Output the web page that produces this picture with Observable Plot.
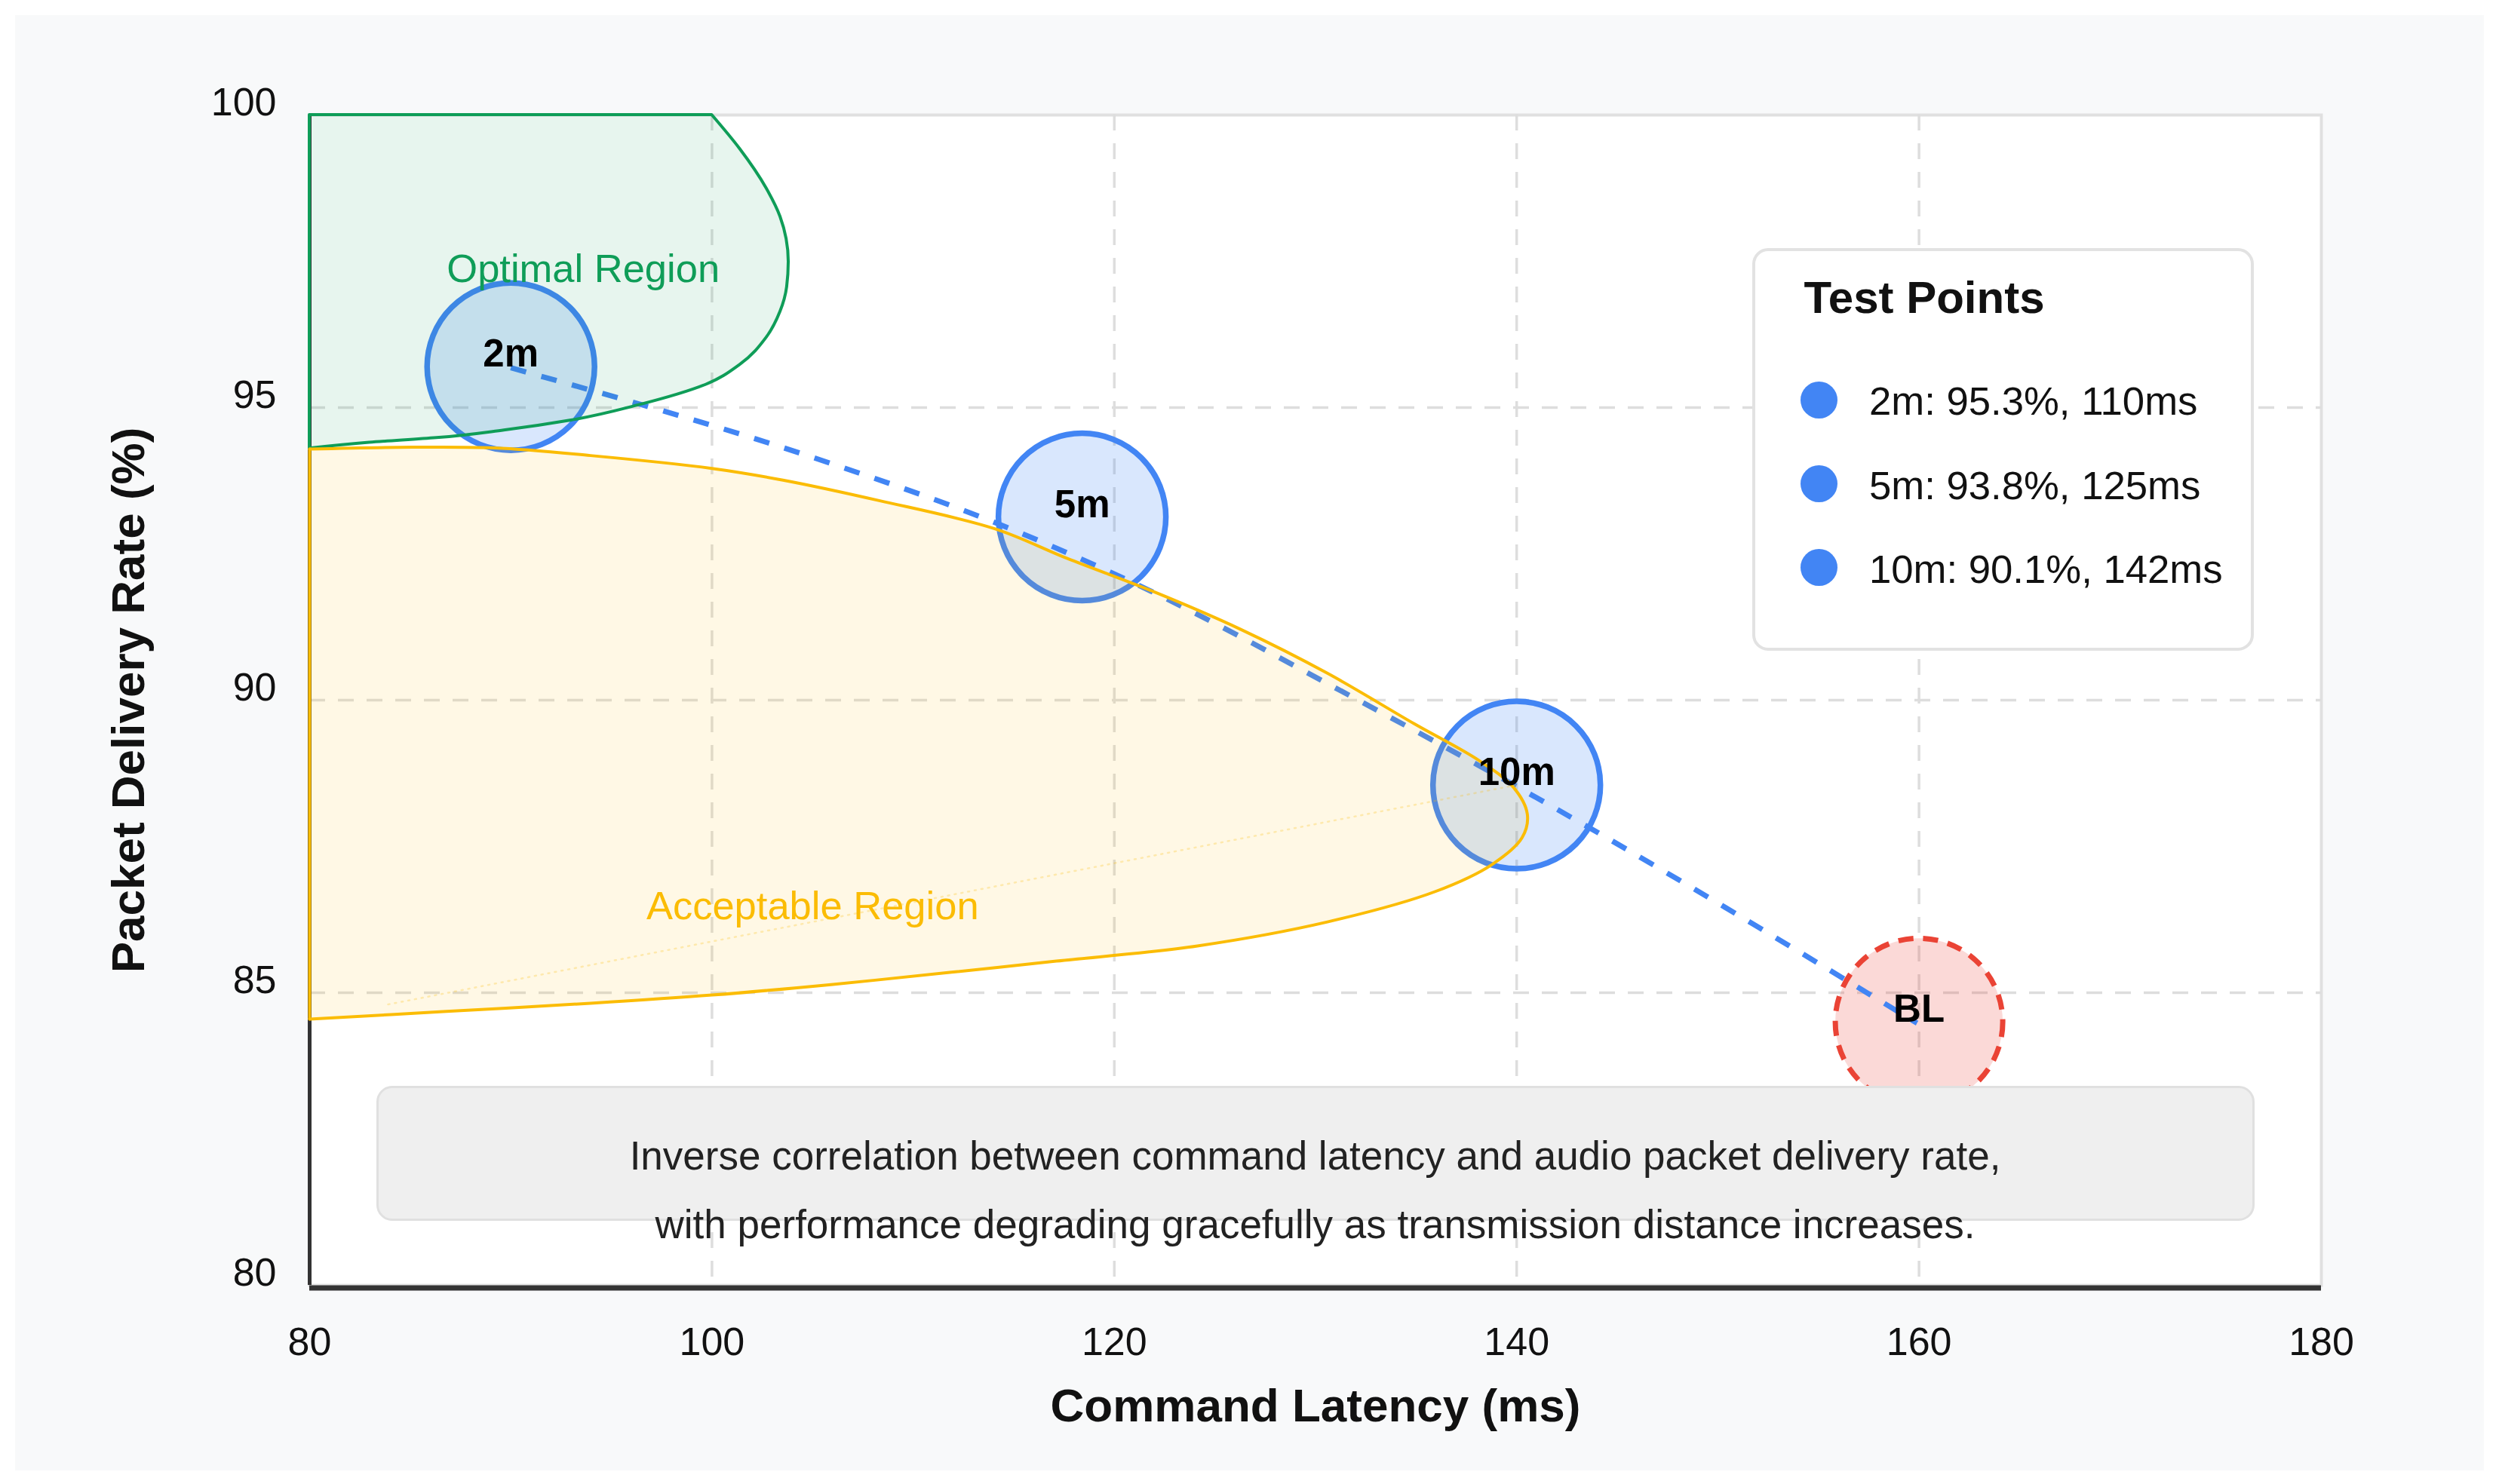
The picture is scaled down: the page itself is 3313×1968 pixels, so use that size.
<!DOCTYPE html>
<html>
<head>
<meta charset="utf-8">
<script src="https://cdn.jsdelivr.net/npm/d3@7"></script>
<script src="https://cdn.jsdelivr.net/npm/@observablehq/plot@0.6"></script>
<style>
  html, body { margin: 0; padding: 0; background: #ffffff; }
  body { width: 3313px; height: 1968px; position: relative; overflow: hidden;
         font-family: "Liberation Sans", Arial, Helvetica, sans-serif; color: #111; }
  #panel { position: absolute; left: 20px; top: 20px; width: 3273px; height: 1930px; background: #f8f9fa; }
  #chart { position: absolute; left: 0; top: 0; }
  .abs { position: absolute; white-space: nowrap; }
  #legendBox { left: 2303px; top: 309px; width: 665px; height: 534px; box-sizing: border-box;
               background: #ffffff; border: 4px solid #e2e2e2; border-radius: 21px; }
  #legendTitle { left: 2371.6px; top: 345.2px; font-size: 60px; line-height: 60px; font-weight: bold; color: #111; }
  .legDot { width: 49px; height: 49px; border-radius: 50%; background: #4285f4; }
  .legText { font-size: 52.7px; line-height: 52.7px; color: #111; }
  #captionBox { left: 479px; top: 1420px; width: 2490px; height: 179px; box-sizing: border-box;
                background: #efefef; border: 3px solid #e0e0e0; border-radius: 21px; }
  #captionText { left: 390px; top: 1466.5px; width: 2667px; text-align: center; white-space: normal;
                 font-size: 53px; line-height: 91px; color: #222; }
</style>
</head>
<body>
<div id="panel">
  <div id="chart"></div>
  <div id="legendBox" class="abs"></div>
  <div id="legendTitle" class="abs">Test Points</div>
  <div id="legendItems"></div>
  <div id="captionBox" class="abs"></div>
  <div id="captionText" class="abs"></div>
</div>
<script>
// ---- Data ----
// Legend values of the three test points
const distances    = ["2m", "5m", "10m"];
const deliveryRate = [95.3, 93.8, 90.1];   // %
const latencyMs    = [110, 125, 142];      // ms

// Marker positions as drawn on the chart (latency ms, delivery %)
const markerLabels   = ["2m", "5m", "10m", "BL"];
const markerLatency  = [90, 118.4, 140, 160];
const markerDelivery = [95.7, 93.13, 88.55, 84.5];

// Dashed trend curve as drawn (latency ms, delivery %)
const trendLatency  = [90.0, 105.87, 114.03, 120.61, 132.18, 139.81, 159.9];
const trendDelivery = [95.68, 94.05, 93.04, 92.06, 89.99, 88.56, 84.48];

// Axis ticks
const xTicks = [80, 100, 120, 140, 160, 180];
const yTicks = [80, 85, 90, 95, 100];

// Optimal region right boundary (ordered by delivery rate)
const optimalX = [80, 82.97, 86.32, 89.67, 93.01, 96.35, 99.70, 101.39, 102.72, 103.40, 103.73, 103.81, 103.40, 102.72, 101.39, 100.0];
const optimalY = [94.30, 94.40, 94.48, 94.61, 94.78, 95.04, 95.39, 95.73, 96.20, 96.64, 97.06, 97.49, 98.26, 98.74, 99.42, 100.0];

// Acceptable region outline (top edge left->right, tip, bottom edge right->left)
const acceptableX = [80, 84.41, 89.19, 93.96, 100.0, 103.53, 108.31, 114.05, 117.67, 121.98, 126.28, 130.59, 134.89, 138.12, 139.84, 140.53, 140.27, 138.77, 135.96, 130.59, 124.13, 117.12, 111.91, 105.92, 100.0, 93.96, 86.80, 80];
const acceptableY = [94.29, 94.32, 94.31, 94.18, 93.96, 93.76, 93.41, 92.93, 92.42, 91.85, 91.21, 90.46, 89.60, 88.97, 88.51, 88.05, 87.65, 87.19, 86.73, 86.21, 85.80, 85.54, 85.35, 85.14, 84.96, 84.82, 84.68, 84.55];

// Faint dotted chord inside the acceptable region
const chordX = [83.9, 140];
const chordY = [84.8, 88.55];

// Region labels
const regionNames  = ["Optimal Region", "Acceptable Region"];
const regionLabelX = [93.6, 105.0];
const regionLabelY = [97.15, 86.26];

const captionLines = [
  "Inverse correlation between command latency and audio packet delivery rate,",
  "with performance degrading gracefully as transmission distance increases."
];

// ---- Tables ----
const markers = markerLabels.map((label, i) => ({label, x: markerLatency[i], y: markerDelivery[i]}));
const tests = markers.filter(d => d.label !== "BL");
const baseline = markers.filter(d => d.label === "BL");
const trend = trendLatency.map((x, i) => ({x, y: trendDelivery[i]}));
const optimal = optimalX.map((x, i) => ({x, y: optimalY[i]}));
const acceptable = acceptableX.map((x, i) => ({x, y: acceptableY[i]}));
const acceptableEdge = [acceptable[acceptable.length - 1], acceptable[0]];
const chord = chordX.map((x, i) => ({x, y: chordY[i]}));
const regionLabels = regionNames.map((name, i) => ({name, x: regionLabelX[i], y: regionLabelY[i]}));

const FONT = "Liberation Sans, Arial, Helvetica, sans-serif";
const gridStyle = {stroke: "#dddddd", strokeOpacity: 1, strokeWidth: 3.5, strokeDasharray: "21,17"};

const chart = Plot.plot({
  width: 3273,
  height: 1930,
  marginLeft: 390,
  marginRight: 216,
  marginTop: 132,
  marginBottom: 246,
  x: {domain: [xTicks[0], xTicks[xTicks.length - 1]], label: null},
  y: {domain: [yTicks[0], yTicks[yTicks.length - 1]], label: null},
  style: {fontFamily: FONT, background: "transparent", color: "#111", overflow: "visible"},
  marks: [
    Plot.frame({fill: "white", stroke: "#e0e0e0", strokeWidth: 4}),
    Plot.gridX(xTicks.slice(1, -1), gridStyle),
    Plot.gridY(yTicks.slice(1, -1), gridStyle),
    Plot.ruleY([yTicks[0]], {stroke: "#333", strokeWidth: 7, dy: 3.5}),
    Plot.ruleX([xTicks[0]], {stroke: "#333", strokeWidth: 5}),
    Plot.axisX(xTicks, {tickSize: 0, tickPadding: 56, fontSize: 52, fill: "#111", label: null, tickFormat: d => String(d)}),
    Plot.axisY(yTicks, {tickSize: 0, tickPadding: 44, fontSize: 52, fill: "#111", lineAnchor: "bottom", label: null, tickFormat: d => String(d)}),
    Plot.dot(tests, {x: "x", y: "y", r: 111, fill: "#4285f4", fillOpacity: 0.2, stroke: "#4285f4", strokeWidth: 7.5}),
    Plot.dot(baseline, {x: "x", y: "y", r: 111, fill: "#ea4335", fillOpacity: 0.2, stroke: "#ea4335", strokeWidth: 7, strokeDasharray: "20,13"}),
    Plot.line(trend, {x: "x", y: "y", curve: "monotone-x", stroke: "#4285f4", strokeWidth: 7, strokeDasharray: "21,21", strokeLinecap: "butt"}),
    Plot.areaX(optimal, {y: "y", x1: xTicks[0], x2: "x", curve: "monotone-y", fill: "#0f9d58", fillOpacity: 0.1, stroke: "#0f9d58", strokeWidth: 4}),
    Plot.line(acceptable, {x: "x", y: "y", curve: "catmull-rom", fill: "#fbbc04", fillOpacity: 0.1, stroke: "#fbbc04", strokeWidth: 4}),
    Plot.line(acceptableEdge, {x: "x", y: "y", stroke: "#fbbc04", strokeWidth: 4}),
    Plot.line(chord, {x: "x", y: "y", stroke: "#fbbc04", strokeOpacity: 0.25, strokeWidth: 2.5, strokeDasharray: "2,7"}),
    Plot.text(regionLabels.slice(0, 1), {x: "x", y: "y", text: "name", fill: "#0f9d58", fontSize: 52.5, lineAnchor: "bottom"}),
    Plot.text(regionLabels.slice(1), {x: "x", y: "y", text: "name", fill: "#fbbc04", fontSize: 52.5, lineAnchor: "bottom"}),
    Plot.text(markers, {x: "x", y: "y", text: "label", fontSize: 51, fontWeight: "bold", fill: "#000", lineAnchor: "bottom"}),
    Plot.text(["Command Latency (ms)"], {frameAnchor: "bottom", lineAnchor: "bottom", dy: 180, fontSize: 62, fontWeight: "bold", fill: "#111"}),
    Plot.text(["Packet Delivery Rate (%)"], {frameAnchor: "left", rotate: -90, textAnchor: "middle", lineAnchor: "bottom", dx: -220, fontSize: 62, fontWeight: "bold", fill: "#111"})
  ]
});
document.getElementById("chart").appendChild(chart);

// ---- Legend (HTML overlay) ----
const items = document.getElementById("legendItems");
distances.forEach((d, i) => {
  const dot = document.createElement("div");
  dot.className = "abs legDot";
  dot.style.left = "2366.5px";
  dot.style.top = (485.5 + i * 111.2) + "px";
  items.appendChild(dot);
  const t = document.createElement("div");
  t.className = "abs legText";
  t.style.left = "2458px";
  t.style.top = (486.3 + i * 111.2) + "px";
  t.textContent = `${d}: ${deliveryRate[i]}%, ${latencyMs[i]}ms`;
  items.appendChild(t);
});

// ---- Caption ----
document.getElementById("captionText").innerHTML = captionLines.join("<br>");
</script>
</body>
</html>
